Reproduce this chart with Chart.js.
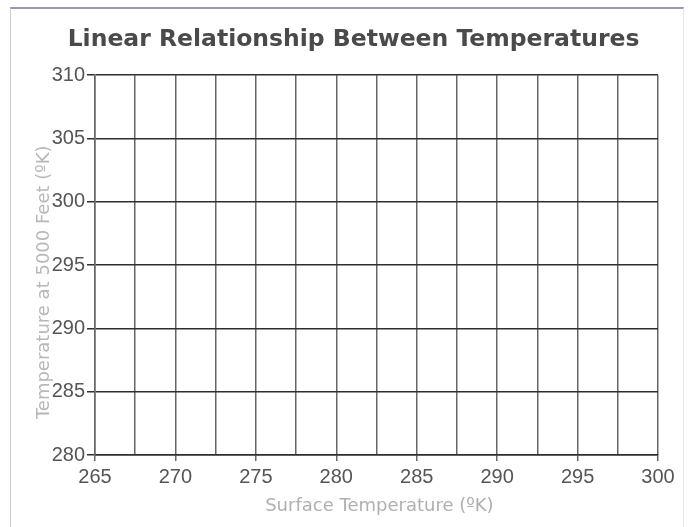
<!DOCTYPE html>
<html>
<head>
<meta charset="utf-8">
<script src="https://cdn.jsdelivr.net/npm/chart.js@4.4.1/dist/chart.umd.min.js"></script>
<style>
  html, body { margin: 0; padding: 0; background: #fff; overflow: hidden; }
  #frame {
    position: absolute; left: 10px; top: 7px; width: 672px; height: 540px;
    border-top: 2px solid #9b93bd; border-left: 1px solid #cfcfcf; border-right: 1px solid #e6e6e6;
  }
  #wrap { position: absolute; left: 0; top: 0; width: 688px; height: 527px; }
</style>
</head>
<body>
<div id="frame"></div>
<div id="wrap"><canvas id="tempChart"></canvas></div>
<script>
// The reference shows an empty grid: no points are plotted
const surfaceTemps = [];
const altitudeTemps = [];

const xRange = [265, 300];
const yRange = [280, 310];
const xGridStep = 2.5;
const xLabelStep = 5;
const yGridStep = 5;

const points = surfaceTemps.map((x, i) => ({ x: x, y: altitudeTemps[i] }));

const tickFont = { family: "'Liberation Sans', Arial, sans-serif", size: 20 };
const titleFont = { family: "'DejaVu Sans', Verdana, sans-serif", size: 18 };

const isLabelTick = v => Math.abs(v / xLabelStep - Math.round(v / xLabelStep)) < 1e-6;

const ctx = document.getElementById('tempChart').getContext('2d');
new Chart(ctx, {
  type: 'scatter',
  data: {
    datasets: [{
      label: 'Temperatures',
      data: points,
      borderColor: '#333',
      backgroundColor: '#333'
    }]
  },
  options: {
    responsive: true,
    maintainAspectRatio: false,
    animation: false,
    layout: { padding: { left: 0, right: 30, top: 0, bottom: 0 } },
    plugins: {
      legend: { display: false },
      tooltip: { enabled: false },
      title: {
        display: true,
        // leading spaces nudge the centred title to the right, as in the original
        text: '      Linear Relationship Between Temperatures',
        color: '#4a4a4a',
        font: { family: "'DejaVu Sans', Verdana, sans-serif", size: 23.5, weight: 'bold' },
        padding: { top: 26, bottom: 21 }
      }
    },
    scales: {
      x: {
        type: 'linear',
        min: xRange[0],
        max: xRange[1],
        afterFit: axis => { axis.height = 72; },
        ticks: {
          stepSize: xGridStep,
          color: '#555',
          font: tickFont,
          padding: 4,
          maxRotation: 0,
          autoSkip: false,
          callback: v => isLabelTick(v) ? v : ''
        },
        grid: {
          color: '#666',
          lineWidth: 1.5,
          tickLength: 6,
          tickColor: c => (c.tick && isLabelTick(c.tick.value)) ? '#666' : 'rgba(0,0,0,0)'
        },
        border: { color: '#2e2e2e', width: 1.5 },
        title: {
          display: true,
          text: ' Surface Temperature (ºK)',
          color: '#b0b0b0',
          font: titleFont,
          padding: { top: 0, bottom: 10 }
        }
      },
      y: {
        type: 'linear',
        min: yRange[0],
        max: yRange[1],
        afterFit: axis => { axis.width = 95; },
        ticks: {
          stepSize: yGridStep,
          color: '#555',
          font: tickFont,
          padding: 2
        },
        grid: {
          color: '#2e2e2e',
          lineWidth: 1.5,
          tickLength: 8,
          tickColor: '#2e2e2e'
        },
        border: { color: '#666', width: 1.5 },
        title: {
          display: true,
          text: 'Temperature at 5000 Feet (ºK)      ',
          color: '#b8b8b8',
          font: titleFont,
          padding: { top: 34, bottom: 0 }
        }
      }
    }
  }
});
</script>
</body>
</html>
